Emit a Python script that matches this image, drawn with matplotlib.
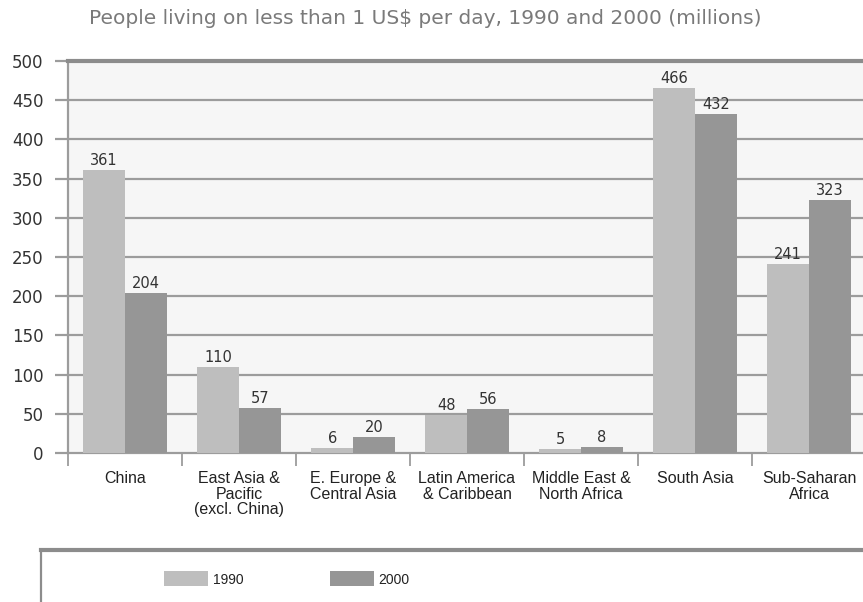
import matplotlib
matplotlib.use("Agg")
import matplotlib.pyplot as plt
import numpy as np

regions = ["China", "East Asia &\nPacific\n(excl. China)", "E. Europe &\nCentral Asia",
           "Latin America\n& Caribbean", "Middle East &\nNorth Africa", "South Asia",
           "Sub-Saharan\nAfrica"]
values_1990 = [361, 110, 6, 48, 5, 466, 241]
values_2000 = [204, 57, 20, 56, 8, 432, 323]
series_labels = ["1990", "2000"]
y_ticks = [0, 50, 100, 150, 200, 250, 300, 350, 400, 450, 500]

plt.rcParams['font.family'] = ['DejaVu Sans']
sans = ['Liberation Sans', 'DejaVu Sans']

W, H = 863, 602
fig = plt.figure(figsize=(W / 100, H / 100), dpi=100)
fig.patch.set_facecolor("white")

def fx(px):
    return px / W

def fy(py):
    return 1 - py / H

ax = fig.add_axes([fx(68), fy(453), fx(866) - fx(68), fy(61) - fy(453)])
ax.set_facecolor("#f6f6f6")

c1990 = "#bebebe"
c2000 = "#969696"
grid_c = "#9c9c9c"
text_c = "#333333"

x = np.arange(len(regions))
bw = 0.365
b1 = ax.bar(x - bw / 2, values_1990, bw, color=c1990, zorder=3, label=series_labels[0])
b2 = ax.bar(x + bw / 2, values_2000, bw, color=c2000, zorder=3, label=series_labels[1])

for bars, vals in ((b1, values_1990), (b2, values_2000)):
    for rect, v in zip(bars, vals):
        ax.annotate(str(v), (rect.get_x() + rect.get_width() / 2, v),
                    xytext=(0, 1.5), textcoords="offset points",
                    ha="center", va="bottom", fontsize=10.5, color=text_c, zorder=4)

ax.set_xlim(-0.5, len(regions) - 0.5)
ax.set_ylim(0, 500)
ax.set_yticks(y_ticks)
ax.set_yticklabels([str(t) for t in y_ticks], fontsize=12, color=text_c)
for t in y_ticks[1:-1]:
    ax.axhline(t, color=grid_c, lw=1.6, zorder=1)

ax.set_xticks(x)
ax.set_xticklabels(regions, fontsize=11.5, color="#222222", linespacing=1.05,
                   family=sans)
ax.set_xticks(np.arange(len(regions) + 1) - 0.5, minor=True)
ax.tick_params(axis="x", which="major", length=0, pad=13)
ax.tick_params(axis="x", which="minor", length=9, width=1.3, color=grid_c)
ax.tick_params(axis="y", length=9.5, width=1.6, color=grid_c, pad=8)

ax.spines["right"].set_visible(False)
ax.spines["top"].set_color("#8c8c8c")
ax.spines["top"].set_linewidth(3)
ax.spines["left"].set_color(grid_c)
ax.spines["left"].set_linewidth(1.6)
ax.spines["bottom"].set_color(grid_c)
ax.spines["bottom"].set_linewidth(1.6)

fig.text(fx(89), fy(18), "People living on less than 1 US$ per day, 1990 and 2000 (millions)",
         fontsize=14.5, color="#7a7a7a", ha="left", va="center")

# legend panel
lax = fig.add_axes([fx(41), fy(640), fx(900) - fx(41), fy(550) - fy(640)])
lax.set_xticks([])
lax.set_yticks([])
lax.set_facecolor("white")
for s in ("right", "bottom"):
    lax.spines[s].set_visible(False)
lax.spines["top"].set_color("#8c8c8c")
lax.spines["top"].set_linewidth(3)
lax.spines["left"].set_color("#8c8c8c")
lax.spines["left"].set_linewidth(1.6)

leg = fig.legend(handles=[b1, b2], labels=series_labels, loc="center",
                 bbox_to_anchor=(fx(287), fy(579)), ncol=2, frameon=False,
                 prop={"family": sans, "size": 10},
                 handlelength=3.15, handleheight=1.25,
                 handletextpad=0.35, columnspacing=6.2, labelcolor="#222222")

fig.savefig("out.png", dpi=100)
